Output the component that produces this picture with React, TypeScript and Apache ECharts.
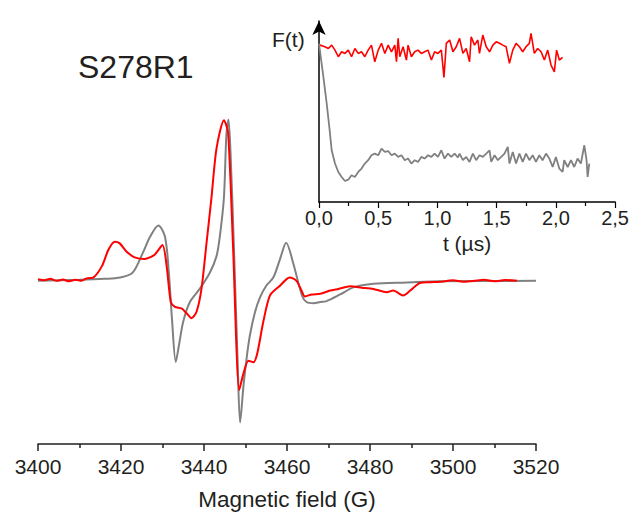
import React, { useEffect, useRef } from "react";
import * as echarts from "echarts";

// Main EPR spectra: [field (G), intensity (a.u.)]
const eprGray: [number, number][] = [
  [3400, 0], [3410, 1], [3416, 2], [3419.8, 3.3], [3422.8, 8.3], [3425.2, 28], [3427, 45],
  [3429, 56.7], [3430.6, 45], [3431.5, 10], [3432.3, -40], [3433.2, -83], [3434, -65],
  [3435, -41.7], [3436.6, -21.7], [3439, -8], [3441.4, 8.3], [3443, 25], [3443.8, 45],
  [3444.8, 85], [3445.4, 150], [3445.9, 165], [3446.5, 119], [3447.2, 35], [3448.1, -82],
  [3448.7, -145], [3449.5, -108], [3450.3, -78], [3451.1, -55], [3452.3, -32], [3453.5, -17],
  [3455, -5], [3456.7, 3.3], [3458.3, 22], [3459.8, 39], [3461.5, 18], [3463.6, -15],
  [3464.7, -21.7], [3466.5, -23], [3468, -21.7], [3469.4, -21], [3472.8, -14], [3476, -6.7],
  [3480.8, -3], [3488.9, -1.7], [3496.9, -0.5], [3520, 0],
];

const eprRed: [number, number][] = [
  [3400, 1.7], [3401.5, 0.5], [3403, 2], [3404.5, 0], [3406, 1.2], [3407.5, -0.5], [3409, 1],
  [3410.5, 0], [3411.7, 2.5], [3413.3, 3.3], [3415.4, 15], [3417, 32], [3418.5, 40],
  [3419.7, 38.3], [3421.3, 30], [3423.3, 24], [3425.7, 22.3], [3428.1, 26.7], [3430, 36.7],
  [3431, 15], [3432, -21.7], [3433, -26.7], [3434.6, -28.3], [3435.8, -33.3], [3437, -38.3],
  [3438.2, -31.7], [3439.4, -8], [3440.6, 38.3], [3441.8, 85], [3443, 135], [3444.8, 164.3],
  [3445.8, 152], [3447, 35], [3448.5, -111.7], [3449.5, -95], [3450.7, -81.7], [3451.9, -83.3],
  [3452.8, -75], [3454.3, -41.7], [3455.9, -15], [3458.3, -5], [3459.9, 1.7], [3460.7, 3.3],
  [3462.3, 0], [3463.5, -10], [3464.3, -16], [3466, -14], [3468, -13.3], [3470.4, -10],
  [3472.4, -8.3], [3475.2, -5.7], [3478, -7], [3480.8, -8.3], [3484, -11.7], [3485.6, -10],
  [3488, -15], [3489.7, -10], [3492, -2.3], [3494.5, -1.5], [3496.9, -1], [3500, 0.5],
  [3502.5, -1], [3504.9, -0.3], [3507.5, 1], [3510, -0.5], [3512.5, 0.8], [3515.4, 0],
];

// Inset DEER traces: [t (µs), F(t)]
const deerRed: [number, number][] = [
  [0, 1.04], [0.008, 1.04], [0.05, 1.029], [0.079, 1.018], [0.107, 1.04], [0.135, 1.007],
  [0.163, 0.963], [0.191, 0.996], [0.219, 0.985], [0.247, 1.007], [0.275, 0.963], [0.303, 1.018],
  [0.331, 0.985], [0.359, 0.996], [0.387, 0.963], [0.415, 1.007], [0.443, 1.04], [0.471, 0.93],
  [0.5, 1.007], [0.528, 1.052], [0.556, 0.985], [0.584, 1.04], [0.612, 0.996], [0.64, 1.04],
  [0.654, 0.93], [0.668, 1.085], [0.682, 0.963], [0.71, 1.029], [0.738, 0.941], [0.752, 1.04],
  [0.78, 0.963], [0.808, 0.996], [0.836, 1.007], [0.864, 0.985], [0.892, 0.996], [0.92, 1.007],
  [0.949, 0.941], [0.976, 0.996], [1.004, 0.985], [1.033, 1.007], [1.055, 0.826], [1.075, 1.052],
  [1.103, 1.074], [1.131, 0.996], [1.159, 1.029], [1.187, 1.085], [1.215, 0.985], [1.243, 1.018],
  [1.271, 0.93], [1.285, 1.096], [1.313, 1.04], [1.341, 1.074], [1.355, 0.985], [1.383, 1.107],
  [1.412, 1.029], [1.44, 0.996], [1.468, 1.04], [1.496, 1.062], [1.524, 1.052], [1.552, 1.04],
  [1.58, 1.029], [1.608, 0.919], [1.636, 1.007], [1.664, 1.052], [1.692, 1.029], [1.72, 0.996],
  [1.748, 1.029], [1.776, 1.052], [1.79, 1.118], [1.818, 0.985], [1.846, 1.018], [1.875, 0.996],
  [1.903, 0.941], [1.931, 1.007], [1.959, 0.908], [1.987, 0.863], [2.006, 1.007], [2.029, 0.941],
  [2.057, 0.959],
];

const deerGray: [number, number][] = [
  [0, 1.05], [0.037, 0.83], [0.065, 0.653], [0.087, 0.498], [0.107, 0.343], [0.135, 0.255],
  [0.163, 0.199], [0.191, 0.166], [0.219, 0.139], [0.247, 0.148], [0.275, 0.177], [0.303, 0.166],
  [0.331, 0.199], [0.359, 0.222], [0.387, 0.255], [0.415, 0.277], [0.443, 0.31], [0.471, 0.321],
  [0.5, 0.31], [0.528, 0.354], [0.556, 0.332], [0.584, 0.338], [0.612, 0.31], [0.64, 0.321],
  [0.668, 0.299], [0.696, 0.31], [0.724, 0.277], [0.752, 0.288], [0.78, 0.255], [0.808, 0.277],
  [0.836, 0.266], [0.864, 0.299], [0.892, 0.288], [0.92, 0.31], [0.949, 0.299], [0.976, 0.321],
  [1.004, 0.299], [1.033, 0.343], [1.06, 0.288], [1.089, 0.321], [1.117, 0.299], [1.145, 0.321],
  [1.173, 0.295], [1.187, 0.321], [1.215, 0.277], [1.243, 0.299], [1.271, 0.266], [1.299, 0.321],
  [1.327, 0.277], [1.355, 0.31], [1.383, 0.299], [1.412, 0.321], [1.44, 0.343], [1.454, 0.266],
  [1.482, 0.31], [1.51, 0.277], [1.538, 0.299], [1.566, 0.321], [1.594, 0.365], [1.608, 0.255],
  [1.636, 0.332], [1.664, 0.255], [1.692, 0.321], [1.72, 0.266], [1.748, 0.321], [1.776, 0.277],
  [1.804, 0.31], [1.832, 0.266], [1.86, 0.31], [1.888, 0.277], [1.917, 0.321], [1.945, 0.288],
  [1.973, 0.232], [2.0, 0.299], [2.029, 0.222], [2.057, 0.199], [2.07, 0.277], [2.1, 0.232],
  [2.127, 0.277], [2.155, 0.232], [2.183, 0.288], [2.211, 0.255], [2.24, 0.376], [2.259, 0.277],
  [2.268, 0.166], [2.282, 0.255],
];

const titleText = "S278R1";
const mainAxisName = "Magnetic field (G)";
const insetXName = "t (µs)";
const insetYName = "F(t)";

const FONT = "'Liberation Sans', Arial, sans-serif";
const INK = "#231f20";

export default function App() {
  const ref = useRef<HTMLDivElement>(null);
  useEffect(() => {
    if (!ref.current) return;
    const chart = echarts.init(ref.current, null, { renderer: "svg" });
    chart.setOption({
      animation: false,
      backgroundColor: "#ffffff",
      textStyle: { fontFamily: FONT },
      grid: [
        { left: 38, right: 96, top: 100, bottom: 64 },
        { left: 319, right: 16, top: 21, bottom: 314 },
      ],
      xAxis: [
        {
          gridIndex: 0,
          type: "value",
          min: 3400,
          max: 3520,
          interval: 20,
          name: mainAxisName,
          nameLocation: "middle",
          nameGap: 44,
          nameTextStyle: { fontSize: 22.5, color: INK, fontFamily: FONT },
          axisLine: { show: true, onZero: false, lineStyle: { color: INK, width: 1.5 } },
          axisTick: { show: true, inside: false, length: 7, lineStyle: { color: INK, width: 1.5 } },
          minorTick: { show: true, splitNumber: 2, length: 4, lineStyle: { color: INK, width: 1.5 } },
          axisLabel: {
            fontSize: 21,
            color: INK,
            margin: 12,
            fontFamily: FONT,
            formatter: (v: number) => String(v),
          },
          splitLine: { show: false },
          minorSplitLine: { show: false },
        },
        {
          gridIndex: 1,
          type: "value",
          min: 0,
          max: 2.5,
          interval: 0.5,
          name: insetXName,
          nameLocation: "middle",
          nameGap: 31,
          nameTextStyle: { fontSize: 21, color: INK, fontFamily: FONT },
          axisLine: { show: true, onZero: false, lineStyle: { color: "#000", width: 1.5 } },
          axisTick: { show: true, inside: false, length: 6, lineStyle: { color: "#000", width: 1.2 } },
          minorTick: { show: true, splitNumber: 2, length: 4, lineStyle: { color: "#000", width: 1.2 } },
          axisLabel: {
            fontSize: 20,
            color: INK,
            margin: 6,
            fontFamily: FONT,
            formatter: (v: number) => v.toFixed(1).replace(".", ","),
          },
          splitLine: { show: false },
          minorSplitLine: { show: false },
        },
      ],
      yAxis: [
        {
          gridIndex: 0,
          type: "value",
          min: -167,
          max: 185,
          show: false,
        },
        {
          gridIndex: 1,
          type: "value",
          min: 0,
          max: 1.2,
          axisLine: {
            show: true,
            onZero: false,
            symbol: ["none", "arrow"],
            symbolSize: [10, 14],
            lineStyle: { color: "#000", width: 1.5 },
          },
          axisTick: { show: false },
          axisLabel: { show: false },
          splitLine: { show: false },
        },
      ],
      graphic: [
        {
          type: "text",
          left: 78,
          top: 51,
          style: { text: titleText, fontSize: 32, fill: INK, fontFamily: FONT },
        },
        {
          type: "text",
          left: 272,
          top: 29,
          style: { text: insetYName, fontSize: 21, fill: INK, fontFamily: FONT },
        },
      ],
      series: [
        {
          type: "line",
          xAxisIndex: 0,
          yAxisIndex: 0,
          data: eprGray,
          showSymbol: false,
          smooth: 0.3,
          lineStyle: { color: "#808080", width: 2 },
        },
        {
          type: "line",
          xAxisIndex: 0,
          yAxisIndex: 0,
          data: eprRed,
          showSymbol: false,
          smooth: 0.25,
          lineStyle: { color: "#ff0000", width: 2 },
        },
        {
          type: "line",
          xAxisIndex: 1,
          yAxisIndex: 1,
          data: deerRed,
          showSymbol: false,
          lineStyle: { color: "#ff0000", width: 1.6 },
        },
        {
          type: "line",
          xAxisIndex: 1,
          yAxisIndex: 1,
          data: deerGray,
          showSymbol: false,
          lineStyle: { color: "#808080", width: 1.8 },
        },
      ],
    });
    return () => chart.dispose();
  }, []);
  return (
    <div
      ref={ref}
      style={{ position: "absolute", left: 0, top: 0, width: 632, height: 516, background: "#fff" }}
    />
  );
}
